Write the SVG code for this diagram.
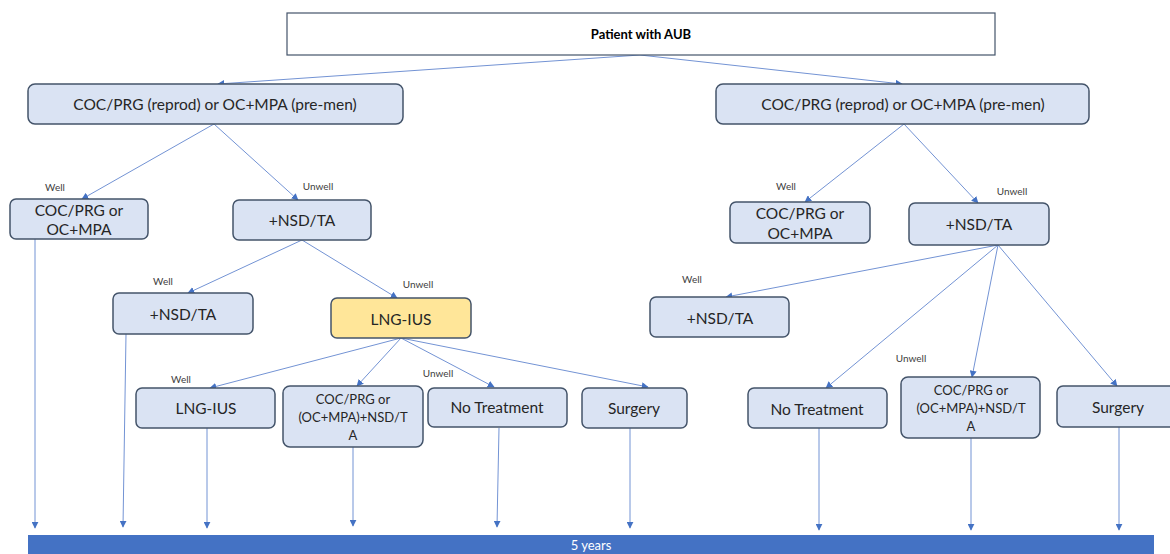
<svg xmlns="http://www.w3.org/2000/svg" width="1170" height="554" viewBox="0 0 1170 554">
<defs>
<marker id="ah" viewBox="0 0 10 10" refX="9" refY="5" markerWidth="7" markerHeight="7" markerUnits="userSpaceOnUse" orient="auto">
<path d="M0,0 L10,5 L0,10 z" fill="#4472c4"/>
</marker>
<style>
.n{fill:#dae3f3;stroke:#44546a;stroke-width:1.5}
.y{fill:#ffe699;stroke:#44546a;stroke-width:1.5}
.t{font-family:Lato,"Liberation Sans",sans-serif;font-size:15.5px;fill:#262626;text-anchor:middle;dominant-baseline:central}
.s{font-family:Lato,"Liberation Sans",sans-serif;font-size:13px;fill:#262626;text-anchor:middle;dominant-baseline:central}
.l{font-family:Lato,"Liberation Sans",sans-serif;font-size:10px;fill:#404040;text-anchor:middle;dominant-baseline:central}
.c line{stroke:#7393d4;stroke-width:1;marker-end:url(#ah)}
</style>
</defs>
<rect width="1170" height="554" fill="#ffffff"/>

<g class="c" id="connectors">
<line x1="640" y1="55" x2="218" y2="84"/>
<line x1="640" y1="55" x2="902" y2="84"/>
<line x1="214" y1="124" x2="82" y2="199"/>
<line x1="214" y1="124" x2="298" y2="200"/>
<line x1="904" y1="124" x2="805" y2="202"/>
<line x1="904" y1="124" x2="978" y2="203"/>
<line x1="302" y1="240" x2="188" y2="293"/>
<line x1="302" y1="240" x2="397" y2="298"/>
<line x1="998" y1="245" x2="726" y2="297"/>
<line x1="998" y1="245" x2="826" y2="388"/>
<line x1="998" y1="245" x2="972" y2="377"/>
<line x1="998" y1="245" x2="1117" y2="386"/>
<line x1="401" y1="338" x2="210" y2="388"/>
<line x1="401" y1="338" x2="357" y2="386"/>
<line x1="401" y1="338" x2="494" y2="387"/>
<line x1="401" y1="338" x2="648" y2="387"/>
<line x1="35" y1="239" x2="35" y2="528"/>
<line x1="126" y1="334" x2="123" y2="527"/>
<line x1="207" y1="428" x2="207" y2="528"/>
<line x1="353" y1="447" x2="353" y2="526"/>
<line x1="499" y1="428" x2="497" y2="527"/>
<line x1="630" y1="428" x2="630" y2="528"/>
<line x1="819" y1="428" x2="819" y2="530"/>
<line x1="971" y1="438" x2="971" y2="530"/>
<line x1="1119" y1="427" x2="1119" y2="530"/>
</g>

<g id="labels">
<text class="l" x="55" y="187">Well</text>
<text class="l" x="318" y="186">Unwell</text>
<text class="l" x="786" y="186">Well</text>
<text class="l" x="1012" y="191">Unwell</text>
<text class="l" x="163" y="281">Well</text>
<text class="l" x="418" y="284">Unwell</text>
<text class="l" x="692" y="279">Well</text>
<text class="l" x="181" y="379">Well</text>
<text class="l" x="438" y="373">Unwell</text>
<text class="l" x="911" y="358">Unwell</text>
</g>

<g id="root">
<rect x="287" y="13" width="708" height="42" fill="#ffffff" stroke="#44546a" stroke-width="1.2"/>
<text class="t" x="641" y="34" style="font-size:13px;font-weight:bold;fill:#000">Patient with AUB</text>
</g>

<g id="l1-left">
<rect class="n" x="28" y="84" width="375" height="40" rx="7"/>
<text class="t" x="215" y="104">COC/PRG (reprod) or OC+MPA (pre-men)</text>
</g>
<g id="l1-right">
<rect class="n" x="716" y="84" width="373" height="40" rx="7"/>
<text class="t" x="903" y="104">COC/PRG (reprod) or OC+MPA (pre-men)</text>
</g>

<g id="l2-left-well">
<rect class="n" x="10" y="199" width="138" height="40" rx="6"/>
<text class="t" x="79" y="210">COC/PRG or</text>
<text class="t" x="79" y="229">OC+MPA</text>
</g>
<g id="l2-left-unwell">
<rect class="n" x="233" y="200" width="138" height="40" rx="6"/>
<text class="t" x="302" y="220">+NSD/TA</text>
</g>
<g id="l2-right-well">
<rect class="n" x="730" y="202" width="140" height="41" rx="6"/>
<text class="t" x="800" y="213">COC/PRG or</text>
<text class="t" x="800" y="233">OC+MPA</text>
</g>
<g id="l2-right-unwell">
<rect class="n" x="909" y="203" width="140" height="42" rx="6"/>
<text class="t" x="979" y="224">+NSD/TA</text>
</g>

<g id="l3-left-well">
<rect class="n" x="113" y="293" width="140" height="41" rx="6"/>
<text class="t" x="183" y="314">+NSD/TA</text>
</g>
<g id="l3-left-unwell">
<rect class="y" x="331" y="298" width="140" height="40" rx="6"/>
<text class="t" x="401" y="319">LNG-IUS</text>
</g>
<g id="l3-right-well">
<rect class="n" x="650" y="297" width="139" height="40" rx="6"/>
<text class="t" x="720" y="318">+NSD/TA</text>
</g>

<g id="l4-lng">
<rect class="n" x="136" y="388" width="139" height="40" rx="6"/>
<text class="t" x="206" y="408">LNG-IUS</text>
</g>
<g id="l4-coc-left">
<rect class="n" x="283" y="386" width="140" height="61" rx="7"/>
<text class="s" x="353" y="399">COC/PRG or</text>
<text class="s" x="353" y="417">(OC+MPA)+NSD/T</text>
<text class="s" x="353" y="435">A</text>
</g>
<g id="l4-notreat-left">
<rect class="n" x="428" y="388" width="139" height="39" rx="6"/>
<text class="t" x="497" y="407">No Treatment</text>
</g>
<g id="l4-surgery-left">
<rect class="n" x="582" y="388" width="105" height="40" rx="6"/>
<text class="t" x="634" y="408">Surgery</text>
</g>
<g id="l4-notreat-right">
<rect class="n" x="748" y="388" width="139" height="40" rx="6"/>
<text class="t" x="817" y="409">No Treatment</text>
</g>
<g id="l4-coc-right">
<rect class="n" x="901" y="377" width="139" height="61" rx="7"/>
<text class="s" x="971" y="390">COC/PRG or</text>
<text class="s" x="971" y="408">(OC+MPA)+NSD/T</text>
<text class="s" x="971" y="426">A</text>
</g>
<g id="l4-surgery-right">
<rect class="n" x="1057" y="386" width="120" height="41" rx="6"/>
<text class="t" x="1118" y="407">Surgery</text>
</g>

<g id="timeline">
<rect x="28" y="535" width="1126" height="30" fill="#4472c4"/>
<text x="591" y="545" font-family="Lato,'Liberation Sans',sans-serif" font-size="13" fill="#ffffff" text-anchor="middle" dominant-baseline="central">5 years</text>
</g>
</svg>
